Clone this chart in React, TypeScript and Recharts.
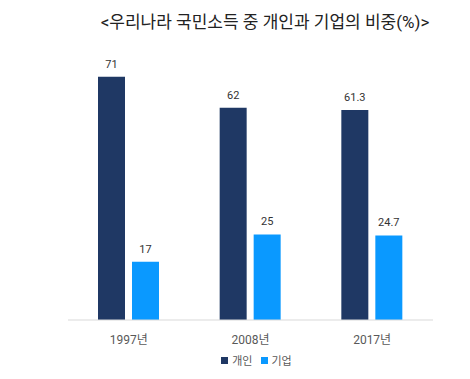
import { Bar, BarChart, LabelList, Legend, XAxis, YAxis } from "recharts";

const years = ["1997년", "2008년", "2017년"];
const personal = [71, 62, 61.3];
const company = [17, 25, 24.7];
const seriesNames = ["개인", "기업"];

const data = years.map((year, i) => ({
  year,
  personal: personal[i],
  company: company[i],
}));

const FONT = 'Roboto, "Noto Sans CJK KR", sans-serif';

function LegendBox({ payload }: { payload?: any[] }) {
  return (
    <div
      style={{
        display: "flex",
        justifyContent: "center",
        alignItems: "center",
        height: 20,
        fontFamily: FONT,
        fontSize: 11,
        color: "#595959",
      }}
    >
      {(payload || []).map((p) => (
        <div
          key={p.value}
          style={{ display: "flex", alignItems: "center", margin: "0 4px" }}
        >
          <span
            style={{
              width: 7,
              height: 7,
              background: p.color,
              marginRight: 4,
              display: "inline-block",
            }}
          />
          <span>{p.value}</span>
        </div>
      ))}
    </div>
  );
}

export default function App() {
  return (
    <div
      style={{
        position: "absolute",
        left: 0,
        top: 0,
        width: 470,
        height: 379,
        background: "#fff",
        fontFamily: FONT,
      }}
    >
      <div
        style={{
          position: "absolute",
          top: 9,
          left: 0,
          width: 530,
          textAlign: "center",
          fontSize: 17,
          color: "#222",
          lineHeight: "26px",
        }}
      >
        {"<우리나라 국민소득 중 개인과 기업의 비중(%)>"}
      </div>
      <BarChart
        width={470}
        height={379}
        data={data}
        margin={{ top: 46, right: 37, left: 68, bottom: 8 }}
        barGap={7}
        barSize={27}
      >
        <XAxis
          dataKey="year"
          axisLine={{ stroke: "#d9d9d9" }}
          tickLine={false}
          height={31}
          tickMargin={9}
          tick={{ fill: "#595959", fontSize: 12, fontFamily: FONT }}
        />
        <YAxis hide domain={[0, 80]} />
        <Legend
          verticalAlign="bottom"
          height={20}
          wrapperStyle={{ bottom: 9, left: 0, width: 513 }}
          content={<LegendBox />}
        />
        <Bar
          dataKey="personal"
          name={seriesNames[0]}
          fill="#1f3864"
          isAnimationActive={false}
        >
          <LabelList
            dataKey="personal"
            position="top"
            offset={9}
            style={{ fill: "#333", fontSize: 11, fontFamily: FONT }}
          />
        </Bar>
        <Bar
          dataKey="company"
          name={seriesNames[1]}
          fill="#0a99ff"
          isAnimationActive={false}
        >
          <LabelList
            dataKey="company"
            position="top"
            offset={9}
            style={{ fill: "#333", fontSize: 11, fontFamily: FONT }}
          />
        </Bar>
      </BarChart>
    </div>
  );
}
